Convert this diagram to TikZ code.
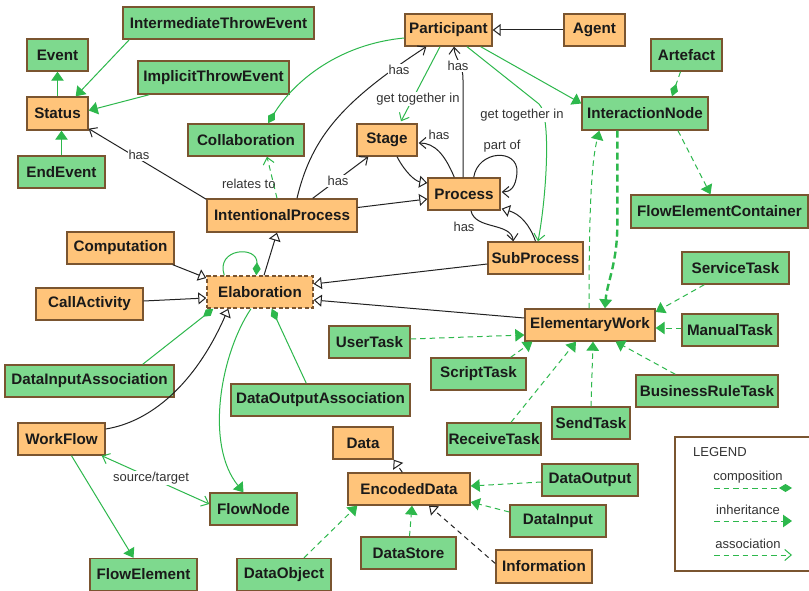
\documentclass[tikz,border=0pt]{standalone}
\usepackage{fontspec}
\setmainfont{Liberation Sans}
\usetikzlibrary{arrows.meta,calc}
\definecolor{orfill}{HTML}{FFC47A}
\definecolor{grfill}{HTML}{7ED98E}
\definecolor{bord}{HTML}{7A5530}
\definecolor{lgreen}{HTML}{2DB84C}
\definecolor{lblack}{HTML}{222222}
\definecolor{txt}{HTML}{1A1A1A}
\definecolor{lbltxt}{HTML}{333333}
\tikzset{
  box/.style={draw=bord, line width=1.4pt, minimum height=32pt, inner sep=0pt, text=txt, font=\fontsize{15.2}{16}\selectfont\bfseries},
  obox/.style={box, fill=orfill},
  gbox/.style={box, fill=grfill},
  glink/.style={draw=lgreen, line width=1pt},
  gdash/.style={glink, dash pattern=on 5.5pt off 4pt},
  gthick/.style={draw=lgreen, line width=2.4pt, dash pattern=on 7pt off 4pt},
  blink/.style={draw=lblack, line width=1pt},
  bdash/.style={blink, dash pattern=on 5pt off 4pt},
  inh/.style={-{Triangle[length=9pt,width=12.5pt]}},
  oinh/.style={-{Triangle[open,length=8pt,width=12pt,fill=white]}},
  comp/.style={-{Kite[length=13pt,width=8pt,inset=6.5pt]}},
  assoc/.style={-{Straight Barb[length=6.5pt,width=11pt]}},
  bassoc/.style={{Straight Barb[length=6.5pt,width=11pt]}-{Straight Barb[length=6.5pt,width=11pt]}},
  lbl/.style={fill=white, inner sep=1pt, text=lbltxt, font=\fontsize{13}{14}\selectfont},
  lblnf/.style={inner sep=1pt, text=lbltxt, font=\fontsize{13}{14}\selectfont},
  legendbox/.style={draw=bord, line width=1.4pt, inner sep=0pt},
}
\begin{document}
\begin{tikzpicture}[x=1pt,y=-1pt]
\fill[white] (0,0) rectangle (809,591);
\useasboundingbox (0,0) rectangle (809,591);
% ---------- nodes ----------
\node[gbox, minimum width=191pt] (ite) at (218.5,23) {IntermediateThrowEvent};
\node[gbox, minimum width=61pt] (event) at (57.5,55) {Event};
\node[gbox, minimum width=151pt, minimum height=33pt] (ite2) at (213.5,77.5) {ImplicitThrowEvent};
\node[obox, minimum width=61pt, minimum height=33pt] (status) at (57.5,113.5) {Status};
\node[gbox, minimum width=87pt] (endev) at (61.5,172) {EndEvent};
\node[gbox, minimum width=116pt] (collab) at (246,140) {Collaboration};
\node[obox, minimum width=87pt] (part) at (448.5,30) {Participant};
\node[obox, minimum width=61pt] (agent) at (594.5,30) {Agent};
\node[gbox, minimum width=71pt] (artefact) at (686.5,55) {Artefact};
\node[gbox, minimum width=126pt, minimum height=33pt] (inode) at (645,113.5) {InteractionNode};
\node[gbox, minimum width=177pt, minimum height=33pt] (fec) at (719.5,211.5) {FlowElementContainer};
\node[obox, minimum width=60pt] (stage) at (387,140) {Stage};
\node[obox, minimum width=72pt] (process) at (464,194) {Process};
\node[obox, minimum width=150pt, minimum height=33pt] (ip) at (282,215.5) {IntentionalProcess};
\node[obox, minimum width=95pt] (subp) at (535.5,258) {SubProcess};
\node[obox, minimum width=107pt] (comp) at (120.5,248) {Computation};
\node[obox, minimum width=107pt] (call) at (89.5,304) {CallActivity};
\node[obox, dash pattern=on 4pt off 2.5pt, minimum width=106pt] (elab) at (260,292) {Elaboration};
\node[gbox, minimum width=169pt] (dia) at (89.5,381) {DataInputAssociation};
\node[gbox, minimum width=179pt] (doa) at (320.5,400) {DataOutputAssociation};
\node[obox, minimum width=130pt] (ew) at (590,325) {ElementaryWork};
\node[gbox, minimum width=81pt] (user) at (369.5,342) {UserTask};
\node[gbox, minimum width=95pt] (script) at (478.5,374) {ScriptTask};
\node[gbox, minimum width=107pt] (service) at (735.5,268) {ServiceTask};
\node[gbox, minimum width=96pt] (manual) at (730,330) {ManualTask};
\node[gbox, minimum width=142pt] (brt) at (707,391) {BusinessRuleTask};
\node[gbox, minimum width=94pt] (receive) at (494,439) {ReceiveTask};
\node[gbox, minimum width=78pt] (send) at (591,423) {SendTask};
\node[obox, minimum width=60pt] (data) at (363,443) {Data};
\node[obox, minimum width=122pt] (ed) at (409,489) {EncodedData};
\node[gbox, minimum width=96pt] (dout) at (590,480) {DataOutput};
\node[gbox, minimum width=96pt] (din) at (558,521) {DataInput};
\node[gbox, minimum width=95pt] (dstore) at (408.5,553) {DataStore};
\node[obox, minimum width=96pt, minimum height=33pt] (info) at (544,566.5) {Information};
\node[gbox, minimum width=94pt] (dobj) at (284,574.5) {DataObject};
\node[obox, minimum width=87pt] (wf) at (61.5,439) {WorkFlow};
\node[gbox, minimum width=87pt] (fn) at (253.5,509) {FlowNode};
\node[gbox, minimum width=107pt] (fe) at (143.5,574.5) {FlowElement};
% ---------- connectors ----------
% Status cluster
\draw[glink,inh] (status.north) -- (event.south);
\draw[glink,inh] (endev.north) -- (endev.north |- status.south);
\draw[glink,inh] ($(ite.south west)+(7,0)$) -- ($(status.north east)+(-13,0)$);
\draw[glink,inh] ($(ite2.south west)+(12,0)$) -- ($(status.east)+(0,-3)$);
\draw[blink,assoc] ($(ip.north west)+(0,1)$) -- ($(status.south east)+(0,-2)$) node[lbl] at (139,155) {has};
% Participant / collaboration
\draw[glink,comp] ($(part.west)+(0,8)$) .. controls (340,44) and (295,80) .. ($(collab.north)+(22,0)$);
\draw[gdash,assoc] ($(ip.north)+(-5,0)$) -- ($(collab.south)+(21,0)$) node[lblnf, anchor=east] at (277,184) {relates to};
\draw[blink,assoc] ($(ip.north)+(15,0)$) .. controls (312,135) and (345,100) .. ($(part.south west)+(22,0)$) node[lbl] at (399,70) {has};
\draw[blink,assoc] ($(ip.north east)+(-45,0)$) -- ($(stage.south west)+(12,0)$) node[lbl] at (338,181) {has};
\draw[blink,oinh] ($(ip.east)+(0,-8)$) -- ($(process.west)+(0,5)$);
\draw[blink,oinh] ($(stage.south)+(10,0)$) .. controls (405,172) and (415,181) .. ($(process.west)+(0,-11)$);
\draw[blink,assoc] ($(process.north west)+(27,0)$) .. controls (445,155) and (435,143) .. ($(stage.east)+(1,3)$) node[lbl] at (439,135) {has};
\draw[blink,assoc] ($(process.north)+(-1,0)$) -- (463,80) .. controls (463,62) and (455,60) .. ($(part.south)+(5.5,0)$) node[lbl] at (458,66) {has};
\draw[blink,assoc] ($(process.north east)+(-27,0)$) .. controls (478,150) and (518,148) .. (517,172) .. controls (516,188) and (510,192) .. ($(process.east)+(1,-2)$) node[lblnf] at (502,146) {part of};
\draw[blink,assoc] ($(process.south)+(7,0)$) .. controls (475,230) and (511,222) .. ($(subp.north west)+(26,0)$) node[lblnf] at (464,227) {has};
\draw[blink,oinh] ($(subp.north)+(0,0)$) .. controls (530,225) and (520,214) .. ($(process.south east)+(1,-2)$);
\draw[glink,assoc] ($(part.south)+(-8.5,0)$) -- ($(stage.north)+(14,-2)$) node[lbl] at (418,99) {get together in};
\draw[glink,assoc] ($(part.south)+(18.5,0)$) -- (539,104) .. controls (552,116) and (546,200) .. ($(subp.north)+(2.5,0)$) node[lbl] at (522,115) {get together in};
\draw[glink,inh] ($(part.south east)+(-12,0)$) -- ($(inode.west)+(0,-10)$);
\draw[blink,oinh] (agent.west) -- (part.east);
% Interaction node
\draw[gdash,comp] ($(artefact.south)+(-6,0)$) -- ($(inode.north)+(27,0)$);
\draw[gdash,inh] ($(inode.south)+(33,0)$) -- ($(fec.north)+(-9,0)$);
\draw[gdash,inh] ($(ew.north)+(-1,0)$) .. controls (589,200) and (592,160) .. ($(inode.south west)+(18,0)$);
\draw[gthick,inh] ($(inode.south west)+(36,0)$) -- ++(0,90) .. controls (618,262) and (607,282) .. ($(ew.north)+(15,0)$);
% Elaboration
\draw[blink,oinh] ($(subp.west)+(0,6)$) -- ($(elab.east)+(0,-8)$);
\draw[blink,oinh] ($(ew.west)+(0,-7)$) -- ($(elab.east)+(0,8)$);
\draw[blink,oinh] ($(comp.south east)+(-2,0)$) -- ($(elab.west)+(0,-14)$);
\draw[blink,oinh] ($(call.east)+(0,-3)$) -- ($(elab.west)+(0,6)$);
\draw[blink,oinh] ($(elab.north)+(4,0)$) -- ($(ip.south)+(-5,0)$);
\draw[glink,comp] ($(elab.north west)+(18,0)$) .. controls (215,248) and (258,245) .. ($(elab.north west)+(50,0)$);
\draw[glink,comp] ($(dia.north east)+(-32,0)$) -- ($(elab.south west)+(7,0)$);
\draw[blink,oinh] ($(wf.east)+(0,-10)$) .. controls (150,422) and (195,385) .. ($(elab.south west)+(22,0)$);
\draw[glink,inh] ($(elab.south)+(-9,0)$) .. controls (220,355) and (205,445) .. ($(fn.north)+(-10,0)$);
\draw[glink,comp] ($(doa.north west)+(76,0)$) -- ($(elab.south east)+(-42,0)$);
% WorkFlow
\draw[glink,inh] ($(wf.south)+(10,0)$) -- ($(fe.north)+(-10,0)$);
\draw[glink,bassoc] ($(wf.south east)+(-4,0)$) -- ($(fn.west)+(0,-5)$) node[lbl] at (151,478) {source/target};
% Elementary work
\draw[gdash,inh] ($(user.east)+(0,-3)$) -- ($(ew.west)+(0,10)$);
\draw[gdash,inh] ($(script.north east)+(-16,0)$) -- ($(ew.south west)+(8,0)$);
\draw[gdash,inh] ($(receive.north)+(17,0)$) -- ($(ew.south)+(-14,0)$);
\draw[gdash,inh] (send.north) -- ($(ew.south)+(3,0)$);
\draw[gdash,inh] ($(service.south west)+(23,0)$) -- ($(ew.east)+(0,-13)$);
\draw[gdash,inh] ($(manual.west)+(0,-2)$) -- ($(ew.east)+(0,3)$);
\draw[gdash,inh] ($(brt.north west)+(40,0)$) -- ($(ew.south east)+(-40,0)$);
% Data
\draw[bdash,oinh] ($(ed.north west)+(55,0)$) -- (data.south east);
\draw[bdash,oinh] ($(info.west)+(0,-3)$) -- ($(ed.south)+(20,0)$);
\draw[gdash,inh] ($(dout.west)+(0,2)$) -- ($(ed.east)+(0,-3)$);
\draw[gdash,inh] ($(din.west)+(0,-9)$) -- ($(ed.east)+(0,13)$);
\draw[gdash,inh] ($(dstore.north)+(1,0)$) -- ($(ed.south)+(3,0)$);
\draw[gdash,inh] ($(dobj.north)+(20,0)$) -- ($(ed.south west)+(10,0)$);
% ---------- legend ----------
\node[legendbox, minimum width=137pt, minimum height=134pt] (legend) at (743.5,504) {};
\node[lblnf, anchor=west] (legtitle) at (692,452) {LEGEND};
\node[lblnf] (lcomp) at (748,477) {composition};
\node[lblnf] (linh) at (748,510) {inheritance};
\node[lblnf] (lassoc) at (748,544) {association};
\coordinate (c1a) at (714,488); \coordinate (c1b) at (792,488);
\coordinate (c2a) at (714,521); \coordinate (c2b) at (792,521);
\coordinate (c3a) at (714,555); \coordinate (c3b) at (792,555);
\draw[gdash,comp] (c1a) -- (c1b);
\draw[gdash,inh] (c2a) -- (c2b);
\draw[gdash,assoc] (c3a) -- (c3b);
\end{tikzpicture}
\end{document}
